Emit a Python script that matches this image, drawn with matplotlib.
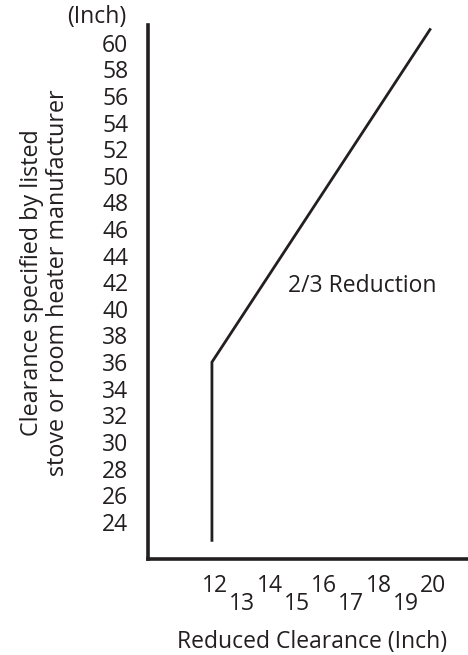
import matplotlib.pyplot as plt
import matplotlib.transforms as mtransforms
from matplotlib.ticker import FixedLocator

plt.rcParams['font.family'] = ['Open Sans', 'DejaVu Sans']

# reduced clearance (x) against the listed clearance (y), inches
reduced = [12, 12, 20]
listed = [22.6, 36, 61]

y_ticks = list(range(24, 61, 2))
x_even = [12, 14, 16, 18, 20]
x_odd = [13, 15, 17, 19]

ink = '#231f20'
fs = 16.5

fig = plt.figure(figsize=(4.68, 6.55), dpi=100)
ax = fig.add_axes([0.316, 0.1466, 0.682, 0.8154])

ax.plot(reduced, listed, color=ink, lw=2.0, solid_joinstyle='miter')
ax.set_xlim(9.65, 21.36)
ax.set_ylim(21.2, 61.35)

for side in ['top', 'right']:
    ax.spines[side].set_visible(False)
for side in ['left', 'bottom']:
    ax.spines[side].set_linewidth(2.6)
    ax.spines[side].set_color(ink)

ax.set_yticks(y_ticks)
ax.set_yticklabels([str(v) for v in y_ticks])
ax.tick_params(axis='y', length=0, pad=14, labelsize=fs, labelcolor=ink)

# staggered x labels: even numbers up, odd numbers down
ax.xaxis.set_major_locator(FixedLocator(x_even))
ax.xaxis.set_minor_locator(FixedLocator(x_odd))
ax.set_xticklabels([str(v) for v in x_even])
ax.set_xticklabels([str(v) for v in x_odd], minor=True)
ax.tick_params(axis='x', which='major', length=0, pad=10.5, labelsize=fs, labelcolor=ink)
ax.tick_params(axis='x', which='minor', length=0, pad=24, labelsize=fs, labelcolor=ink)

# labels sit a touch right of their values in the original
shift = mtransforms.ScaledTranslation(0.03, 0, fig.dpi_scale_trans)
for lab in ax.get_xticklabels() + ax.get_xticklabels(minor=True):
    lab.set_transform(lab.get_transform() + shift)

ax.text(14.8, 41.7, '2/3 Reduction', ha='left', va='center', fontsize=fs, color=ink)

fig.text(0.271, 0.974, '(Inch)', ha='right', va='center', fontsize=fs, color=ink)
fig.text(0.097, 0.569, 'Clearance specified by listed\nstove or room heater manufacturer',
         rotation=90, ha='center', va='center', multialignment='center',
         fontsize=16.8, color=ink, linespacing=1.1)
fig.text(0.667, 0.02, 'Reduced Clearance (Inch)', ha='center', va='center',
         fontsize=fs, color=ink)

fig.savefig('out.png', dpi=100)
